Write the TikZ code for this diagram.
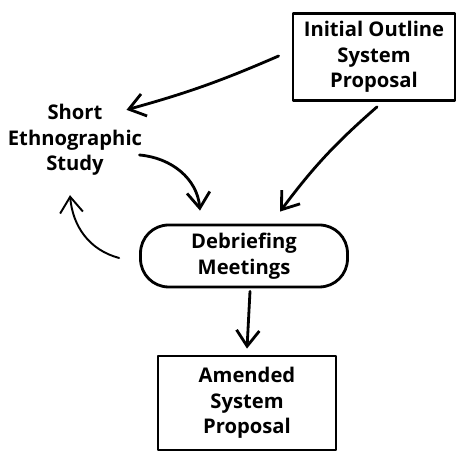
\documentclass[tikz,border=0pt]{standalone}
\usepackage{fontspec}
\setmainfont{Open Sans}
\usetikzlibrary{arrows.meta,calc}

\begin{document}
\begin{tikzpicture}[x=0.02cm, y=0.02cm, >={Straight Barb[length=9pt,width=13pt]}, line width=1.6pt, line join=round, line cap=round, font=\fontsize{11.5}{14.6}\selectfont\bfseries]
	\tikzset{box/.style={draw, align=center, inner sep=0pt},
		txt/.style={align=center, inner sep=0pt}}
	\useasboundingbox (0,0) rectangle (457,452);
	
	\node[box, minimum width=3.24cm, minimum height=1.74cm] (init) at (374,395) {Initial Outline\\System\\Proposal};
	\node[txt] (ethno) at (75,312) {Short\\Ethnographic\\Study};
	\node[box, rounded corners=16pt, minimum width=4.14cm, minimum height=1.24cm] (debr) at (244,196) {Debriefing\\Meetings};
	\node[box, minimum width=3.56cm, minimum height=1.88cm] (amend) at (247,49) {Amended\\System\\Proposal};
	
	\draw[->] ($(init.west)+(-13,1)$) to[bend left=4] ($(ethno.north east)+(-17,-7)$);
	\draw[->] ($(init.south)+(3,-5)$) to[bend right=6] ($(debr.north)+(36,12)$);
	\draw[->] ($(ethno.east)+(-4,-15)$) to[out=-5, in=95] ($(debr.north)+(-44,13)$);
	\draw[->, line width=1.1pt] ($(debr.west)+(-20,-2)$) to[out=165, in=-85] ($(ethno.south)+(-5,-18)$);
	\draw[->] ($(debr.south)+(6,-3)$) -- ($(amend.north)+(0,6)$);
\end{tikzpicture}
\end{document}
